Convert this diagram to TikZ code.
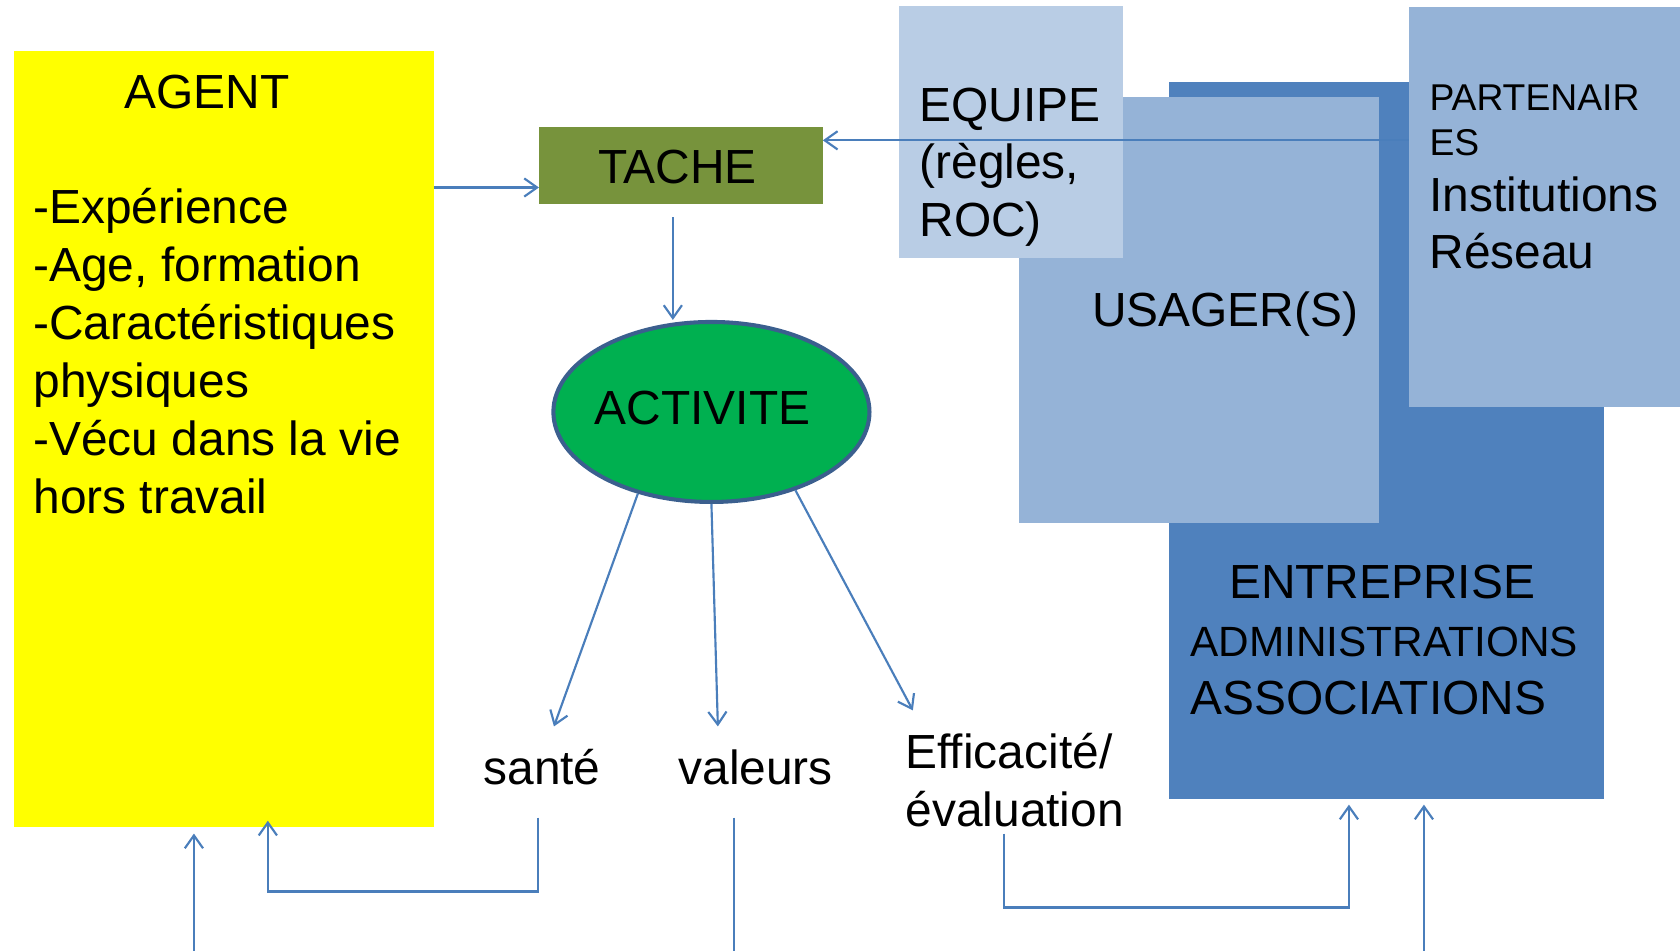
\documentclass[tikz,border=0pt]{standalone}
\usepackage{fontspec}
\setmainfont{Liberation Sans}
\usetikzlibrary{arrows.meta,shapes.geometric}

\definecolor{agentyellow}{HTML}{FFFF00}
\definecolor{tachegreen}{HTML}{77933C}
\definecolor{actgreen}{HTML}{00B050}
\definecolor{actborder}{HTML}{3B5F8E}
\definecolor{equipeblue}{HTML}{B9CDE5}
\definecolor{usagerblue}{HTML}{95B3D7}
\definecolor{entblue}{HTML}{4F81BD}
\definecolor{arrowblue}{HTML}{4A7EBB}

\begin{document}
\begin{tikzpicture}[x=1pt,y=-1pt,
  box/.style={rectangle, inner sep=0pt, outer sep=0pt},
  txt/.style={inner sep=0pt, anchor=base west, align=left, font=\fontsize{44.7}{54}\selectfont},
  smalltxt/.style={txt, font=\fontsize{34.8}{42}\selectfont},
  link/.style={draw=arrowblue, line width=2pt},
  arrow/.style={link, -{Straight Barb[length=12pt,width=17pt]}}]

\useasboundingbox (0,0) rectangle (1568,887.6);

% Boxes
\node[box, fill=agentyellow, minimum width=392pt, minimum height=724pt] (agent) at (209,410) {};
\node[box, fill=tachegreen, minimum width=265pt, minimum height=71pt] (tache) at (635.5,154.5) {};
\node[ellipse, draw=actborder, line width=3.8pt, fill=actgreen, inner sep=0pt,
      minimum width=295pt, minimum height=168pt] (activite) at (664,384.5) {};
\node[box, fill=entblue, minimum width=406pt, minimum height=669pt] (entreprise) at (1294,411.5) {};
\node[box, fill=usagerblue, minimum width=336pt, minimum height=397pt] (usager) at (1119,289.5) {};
\node[box, fill=equipeblue, minimum width=209pt, minimum height=235pt] (equipe) at (943.5,123.5) {};
\node[box, fill=usagerblue, minimum width=253pt, minimum height=373pt] (partenaires) at (1441.5,193.5) {};

% Texts (multi-line nodes sit on their last baseline)
\node[txt] (agenttitle) at (116,101) {AGENT};
\node[txt] (agentlist) at (31,479) {-Expérience\\-Age, formation\\-Caractéristiques\\physiques\\-Vécu dans la vie\\hors travail};
\node[txt] (tachetext) at (558,171) {TACHE};
\node[txt] (activitetext) at (555,396) {ACTIVITE};
\node[txt] (equipetext) at (858,221) {EQUIPE\\(règles,\\ROC)};
\node[txt] (usagertext) at (1019,305) {USAGER(S)};
\node[smalltxt] (partext) at (1334,145) {PARTENAIR\\ES};
\node[txt] (insttext) at (1334,251) {Institutions\\Réseau};
\node[txt] (enttext) at (1147,559) {ENTREPRISE};
\node[txt, font=\fontsize{39.5}{48}\selectfont] (admtext) at (1111,613) {ADMINISTRATIONS};
\node[txt] (assotext) at (1111,667) {ASSOCIATIONS};
\node[txt] (sante) at (451,732) {santé};
\node[txt] (valeurs) at (633,732) {valeurs};
\node[txt] (efficacite) at (845,771) {Efficacité/\\évaluation};

% Free ends
\coordinate (agentout) at (405,175);
\coordinate (partout) at (1315,131);
\coordinate (tacheout) at (628,203);
\coordinate (santein) at (517,678);
\coordinate (valin) at (670,678);
\coordinate (effin) at (852,663);
\coordinate (santeout) at (502,763);
\coordinate (agentin) at (250,766);
\coordinate (agentbot) at (181,888);
\coordinate (agentin2) at (181,778);
\coordinate (valout) at (685,763);
\coordinate (effout) at (937,778);
\coordinate (entin) at (1259,751);
\coordinate (entbot) at (1329,888);

% Connectors
\draw[arrow] (agentout) -- (tache.west |- agentout);
\draw[arrow] (partout) -- (tache.east |- partout);
\draw[arrow] (tacheout) -- (tacheout |- activite.north);
\draw[arrow] (activite.228) -- (santein);
\draw[arrow] (activite.south) -- (valin);
\draw[arrow] (activite.317) -- (effin);
\draw[arrow] (santeout) -- ++(0,69) -| (agentin);
\draw[arrow] (agentbot) -- (agentin2);
\draw[link] (valout) -- (valout |- agentbot);
\draw[arrow] (effout) -- ++(0,69) -| (entin);
\draw[arrow] (entbot) -- (entbot |- entin);

\end{tikzpicture}
\end{document}
